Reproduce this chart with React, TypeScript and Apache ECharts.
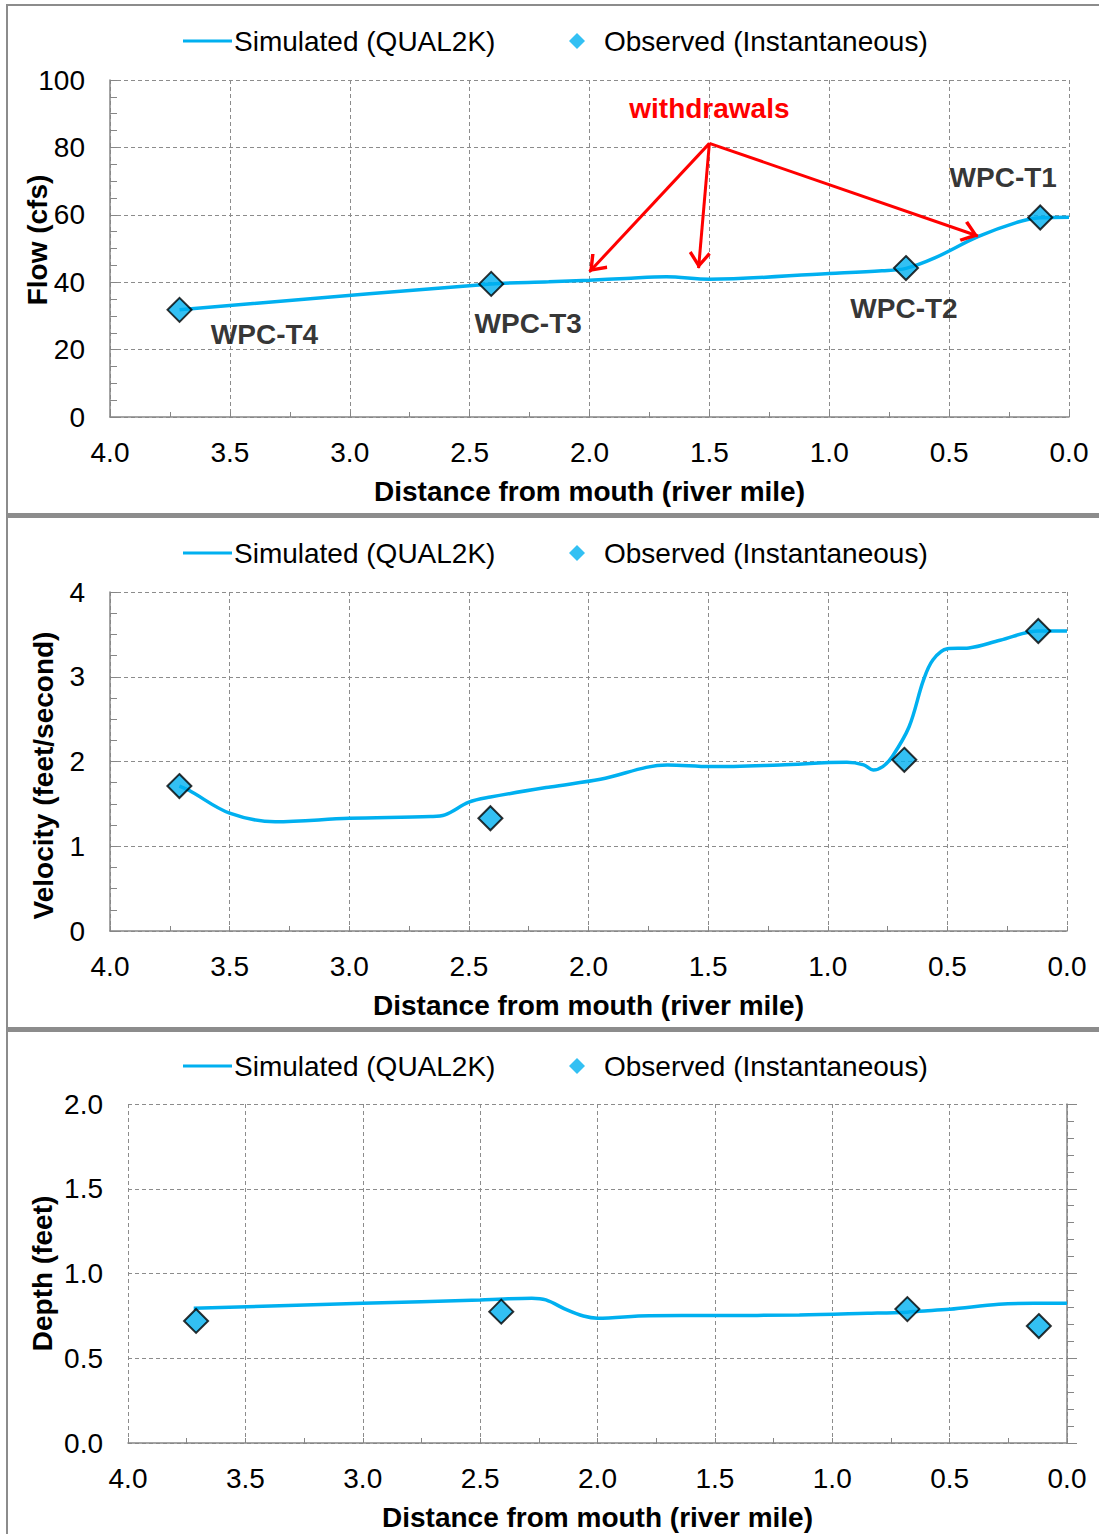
import React, { useEffect, useRef } from 'react';
import * as echarts from 'echarts';

// ---------- data ----------
const stations = ['WPC-T4', 'WPC-T3', 'WPC-T2', 'WPC-T1'];
const obsMiles = [3.71, 2.41, 0.68, 0.12];
const flowObs = [31.8, 39.5, 44.2, 59.2];
const velocityObs = [1.71, 1.33, 2.02, 3.54];
const depthObs = [0.72, 0.775, 0.79, 0.69];

const flowSimMiles = [3.71, 2.41, 2.17, 2.0, 1.85, 1.68, 1.5, 1.0, 0.78, 0.68, 0.56, 0.38, 0.22, 0.12, 0.0];
const flowSim = [31.8, 39.5, 40.1, 40.6, 41.1, 41.6, 40.9, 42.6, 43.4, 44.1, 47.2, 53.5, 57.7, 59.1, 59.3];

const velSimMiles = [3.71, 3.67, 3.5, 3.31, 3.0, 2.66, 2.6, 2.5, 2.41, 2.16, 1.95, 1.67, 1.49, 1.2, 0.92, 0.85, 0.81, 0.77, 0.73, 0.66, 0.6, 0.56, 0.5, 0.41, 0.28, 0.12, 0.0];
const velSim = [1.71, 1.66, 1.39, 1.29, 1.33, 1.35, 1.37, 1.52, 1.58, 1.70, 1.79, 1.96, 1.94, 1.96, 1.99, 1.96, 1.90, 1.94, 2.06, 2.41, 2.96, 3.20, 3.33, 3.34, 3.43, 3.54, 3.54];

const depthSimMiles = [3.72, 3.0, 2.5, 2.4, 2.28, 2.22, 2.13, 2.06, 2.0, 1.78, 1.5, 1.14, 0.85, 0.68, 0.63, 0.5, 0.29, 0.14, 0.0];
const depthSim = [0.795, 0.824, 0.844, 0.85, 0.854, 0.844, 0.785, 0.749, 0.736, 0.751, 0.752, 0.755, 0.765, 0.772, 0.778, 0.789, 0.818, 0.824, 0.824];

const withdrawalFrom = [1.5, 81.2];
const withdrawalTo = [[2.0, 43.1], [1.545, 44.2], [0.38, 53.7]];
const withdrawalLabelAt = [1.5, 91.5];

const legendSim = 'Simulated (QUAL2K)';
const legendObs = 'Observed (Instantaneous)';
const xTitle = 'Distance from mouth (river mile)';

// ---------- styles ----------
const FONT = 'Liberation Sans, Arial, sans-serif';
const AXIS = '#868686';
const GRID = '#8c8c8c';
const BLUE = '#00B0F0';
const ARROW = 'path://M10,0 L20,12 L17.7,13.9 L10,4.6 L2.3,13.9 L0,12 Z';

const pairs = (xs: number[], ys: number[]) => xs.map((x, i) => [x, ys[i]]);

function xAxisFor(gridIndex: number) {
  return {
    type: 'value', gridIndex, min: 0, max: 4, interval: 0.5, inverse: true,
    axisLine: { show: true, onZero: false, lineStyle: { color: AXIS, width: 1.5 } },
    axisTick: { show: true, inside: true, length: 5, lineStyle: { color: AXIS } },
    minorTick: { show: true, splitNumber: 2, length: 5, lineStyle: { color: AXIS } },
    splitLine: { show: true, lineStyle: { color: GRID, type: [4, 3], width: 1 } },
    axisLabel: { margin: 21, fontSize: 28, color: '#000', fontFamily: FONT, formatter: (v: number) => v.toFixed(1) },
    name: xTitle, nameLocation: 'middle', nameGap: 60, nameMoveOverlap: false,
    nameTextStyle: { fontSize: 28, fontWeight: 'bold', color: '#000', fontFamily: FONT },
  };
}

function legendsFor(top: number) {
  const text = { fontSize: 28, color: '#000', fontFamily: FONT };
  return [
    {
      data: [{ name: legendSim, icon: 'rect' }], left: 183, top, padding: 0, itemWidth: 49, itemHeight: 3,
      textStyle: { ...text, padding: [0, 0, 0, -3] }, selectedMode: false,
    },
    {
      data: [{ name: legendObs, icon: 'diamond' }], left: 569, top, padding: 0, itemWidth: 16, itemHeight: 16,
      itemStyle: { borderWidth: 0 }, textStyle: { ...text, padding: [0, 0, 0, 14] }, selectedMode: false,
    },
  ];
}

const labelOffsets = [[85, 25], [37, 40], [-2, 40], [-37, -40]];

export default function App() {
  const ref = useRef<HTMLDivElement>(null);
  useEffect(() => {
    if (!ref.current) return;
    const chart = echarts.init(ref.current, undefined, { renderer: 'svg' });
    const scatterStyle = { color: BLUE, borderColor: '#000', borderWidth: 2 };
    const lineCommon = {
      type: 'line', smooth: 0.35, symbol: 'none',
      lineStyle: { color: BLUE, width: 3.5 }, itemStyle: { color: BLUE },
    };
    const scatterCommon = { type: 'scatter', z: 4, symbol: 'diamond', symbolSize: 24, itemStyle: scatterStyle };
    const yName = { fontSize: 28, fontWeight: 'bold', color: '#000', fontFamily: FONT };
    const option: any = {
      animation: false,
      backgroundColor: '#fff',
      textStyle: { fontFamily: FONT },
      legend: [...legendsFor(27), ...legendsFor(539), ...legendsFor(1052)],
      grid: [
        { left: 110, top: 80, width: 959, height: 337, outerBoundsMode: 'none', containLabel: false },
        { left: 110, top: 592, width: 957, height: 339, outerBoundsMode: 'none', containLabel: false },
        { left: 128, top: 1104, width: 939, height: 339, outerBoundsMode: 'none', containLabel: false },
      ],
      xAxis: [xAxisFor(0), xAxisFor(1), xAxisFor(2)],
      yAxis: [
        {
          type: 'value', gridIndex: 0, min: 0, max: 100, interval: 20, position: 'left',
          axisLine: { show: true, onZero: false, lineStyle: { color: AXIS, width: 1.5 } },
          axisTick: { show: true, inside: true, length: 7, lineStyle: { color: AXIS } },
          minorTick: { show: true, splitNumber: 4, length: 7, lineStyle: { color: AXIS } },
          splitLine: { show: true, lineStyle: { color: GRID, type: [4, 3] } },
          axisLabel: { margin: 25, fontSize: 28, color: '#000', fontFamily: FONT },
          name: 'Flow (cfs)', nameLocation: 'middle', nameGap: 59, nameRotate: 90, nameMoveOverlap: false,
          nameTextStyle: { ...yName, padding: [0, 0, 0, 17] },
        },
        {
          type: 'value', gridIndex: 1, min: 0, max: 4, interval: 1, position: 'left',
          axisLine: { show: true, onZero: false, lineStyle: { color: AXIS, width: 1.5 } },
          axisTick: { show: true, inside: true, length: 7, lineStyle: { color: AXIS } },
          minorTick: { show: true, splitNumber: 4, length: 7, lineStyle: { color: AXIS } },
          splitLine: { show: true, lineStyle: { color: GRID, type: [4, 3] } },
          axisLabel: { margin: 25, fontSize: 28, color: '#000', fontFamily: FONT },
          name: 'Velocity (feet/second)', nameLocation: 'middle', nameGap: 53, nameRotate: 90, nameMoveOverlap: false,
          nameTextStyle: { ...yName, padding: [0, 28, 0, 0] },
        },
        {
          type: 'value', gridIndex: 2, min: 0, max: 2, interval: 0.5, position: 'left',
          axisLine: { show: false, onZero: false },
          axisTick: { show: false },
          splitLine: { show: true, lineStyle: { color: GRID, type: [4, 3] } },
          axisLabel: { margin: 25, fontSize: 28, color: '#000', fontFamily: FONT, formatter: (v: number) => v.toFixed(1) },
          name: 'Depth (feet)', nameLocation: 'middle', nameGap: 72, nameRotate: 90, nameMoveOverlap: false,
          nameTextStyle: yName,
        },
        {
          type: 'value', gridIndex: 2, min: 0, max: 2, interval: 0.5, position: 'right',
          axisLine: { show: true, onZero: false, lineStyle: { color: AXIS, width: 1.5 } },
          axisTick: { show: true, inside: false, length: 10, lineStyle: { color: AXIS } },
          minorTick: { show: true, splitNumber: 5, length: 7, lineStyle: { color: AXIS } },
          splitLine: { show: false },
          axisLabel: { show: false },
        },
      ],
      series: [
        {
          ...lineCommon, name: legendSim, xAxisIndex: 0, yAxisIndex: 0, data: pairs(flowSimMiles, flowSim),
          markLine: {
            silent: true, animation: false, label: { show: false },
            lineStyle: { color: '#FF0000', width: 3, type: 'solid' },
            symbol: ['none', ARROW], symbolSize: [22, 17],
            data: withdrawalTo.map((to) => [
              { coord: withdrawalFrom, symbol: 'none' },
              { coord: to, symbol: ARROW, symbolSize: [22, 17], symbolOffset: [0, 8] },
            ]),
          },
          markPoint: {
            silent: true, animation: false,
            data: [{
              coord: withdrawalLabelAt, symbol: 'circle', symbolSize: 1, itemStyle: { color: 'rgba(0,0,0,0)' },
              label: { show: true, position: 'inside', formatter: 'withdrawals', color: '#FF0000', fontSize: 28, fontWeight: 'bold', fontFamily: FONT },
            }],
          },
        },
        {
          ...scatterCommon, name: legendObs, xAxisIndex: 0, yAxisIndex: 0,
          data: obsMiles.map((m, i) => ({
            value: [m, flowObs[i]],
            label: {
              show: true, position: 'inside', offset: labelOffsets[i], formatter: stations[i],
              fontSize: 28, fontWeight: 'bold', color: '#000', fontFamily: FONT,
            },
          })),
        },
        { ...lineCommon, name: legendSim, xAxisIndex: 1, yAxisIndex: 1, data: pairs(velSimMiles, velSim) },
        { ...scatterCommon, name: legendObs, xAxisIndex: 1, yAxisIndex: 1, data: pairs(obsMiles, velocityObs) },
        { ...lineCommon, name: legendSim, xAxisIndex: 2, yAxisIndex: 2, data: pairs(depthSimMiles, depthSim) },
        { ...scatterCommon, name: legendObs, xAxisIndex: 2, yAxisIndex: 2, data: pairs(obsMiles, depthObs) },
      ],
      graphic: [
        { type: 'line', silent: true, shape: { x1: 6, y1: 5, x2: 1099, y2: 5 }, style: { stroke: '#8c8c8c', lineWidth: 2 } },
        { type: 'line', silent: true, shape: { x1: 7, y1: 5, x2: 7, y2: 1534 }, style: { stroke: '#8c8c8c', lineWidth: 2 } },
        { type: 'rect', silent: true, shape: { x: 7, y: 513, width: 1092, height: 5 }, style: { fill: '#8c8c8c' } },
        { type: 'rect', silent: true, shape: { x: 7, y: 1027, width: 1092, height: 5 }, style: { fill: '#8c8c8c' } },
      ],
    };
    chart.setOption(option);
    return () => chart.dispose();
  }, []);
  return <div ref={ref} style={{ position: 'absolute', left: 0, top: 0, width: 1099, height: 1534 }} />;
}
